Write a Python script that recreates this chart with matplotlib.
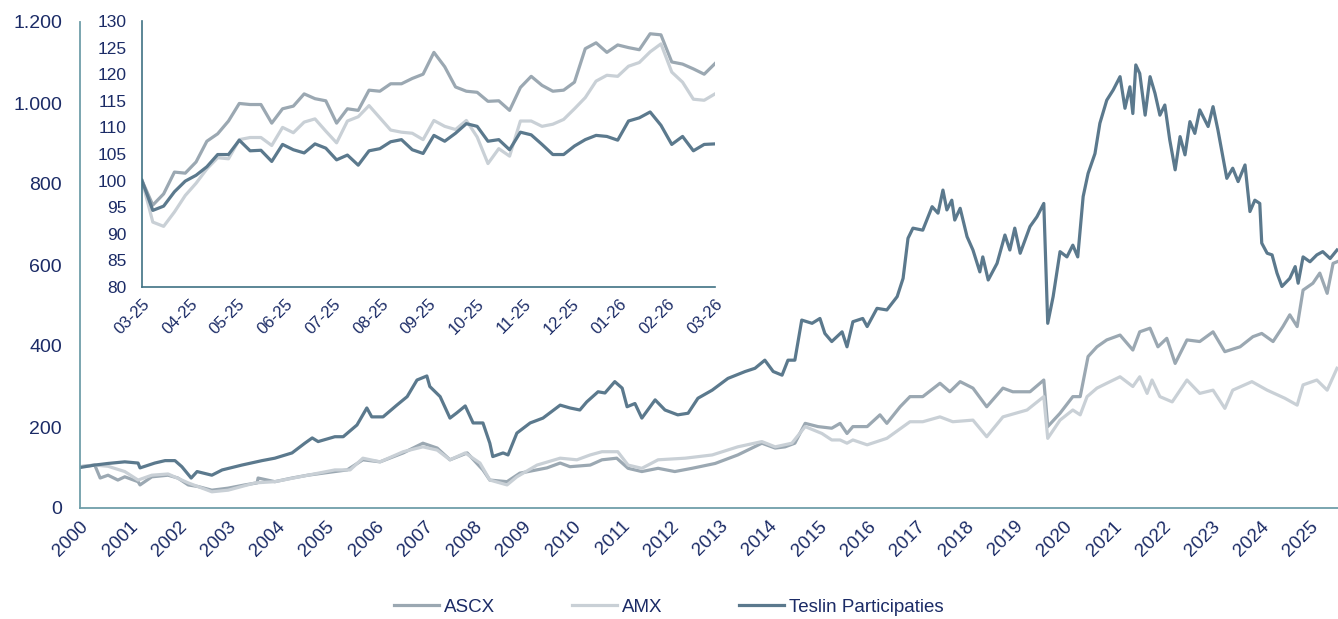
import matplotlib
matplotlib.use("Agg")
import matplotlib.pyplot as plt
from matplotlib.ticker import FuncFormatter
import numpy as np

plt.rcParams["font.family"] = ["Liberation Sans", "DejaVu Sans"]

# colours
c_teslin = "#5b798d"
c_ascx = "#9ba8b2"
c_amx = "#c9d0d6"
c_text = "#1b2b66"
c_spine = "#6f9ea9"

# ---- main chart: index (2000 = 100), x in years ----
teslin_t = [0.00, 0.30, 0.57, 0.91, 1.18, 1.22, 1.52, 1.73, 1.93, 2.07, 2.26, 2.38, 2.68, 2.89, 3.29,
            3.70, 3.96, 4.31, 4.57, 4.72, 4.84, 5.18, 5.35, 5.63, 5.83, 5.93, 6.16, 6.44, 6.65, 6.85,
            7.05, 7.11, 7.32, 7.52, 7.66, 7.83, 7.99, 8.19, 8.33, 8.39, 8.60, 8.70, 8.88, 9.15, 9.41,
            9.76, 9.96, 10.16, 10.30, 10.53, 10.67, 10.87, 11.02, 11.12, 11.28, 11.42, 11.69, 11.89,
            12.15, 12.36, 12.56, 12.85, 13.17, 13.52, 13.72, 13.92, 14.09, 14.27, 14.39, 14.53, 14.67,
            14.88, 15.04, 15.14, 15.28, 15.49, 15.59, 15.71, 15.91, 16.00, 16.20, 16.40, 16.61, 16.73,
            16.83, 16.93, 17.13, 17.32, 17.44, 17.54, 17.62, 17.72, 17.78, 17.89, 18.03, 18.15, 18.29,
            18.35, 18.46, 18.64, 18.80, 18.90, 19.00, 19.11, 19.31, 19.45, 19.59, 19.67, 19.78, 19.92,
            20.06, 20.18, 20.28, 20.39, 20.49, 20.63, 20.73, 20.87, 21.00, 21.14, 21.24, 21.34, 21.40,
            21.46, 21.54, 21.65, 21.75, 21.85, 21.95, 22.05, 22.15, 22.26, 22.36, 22.46, 22.56, 22.66,
            22.76, 22.93, 23.03, 23.13, 23.23, 23.31, 23.43, 23.54, 23.68, 23.78, 23.88, 23.98, 24.02,
            24.13, 24.23, 24.33, 24.43, 24.59, 24.70, 24.76, 24.86, 25.00, 25.14, 25.26, 25.41, 25.55]
teslin_v = [100, 106, 110, 114, 111, 99, 111, 117, 117, 102, 74, 90, 81, 94, 106,
            117, 123, 136, 160, 173, 164, 176, 176, 205, 247, 225, 225, 254, 275, 316,
            326, 300, 275, 222, 235, 252, 210, 210, 160, 127, 136, 131, 185, 210, 222,
            254, 247, 242, 262, 287, 284, 312, 296, 250, 258, 222, 267, 242,
            230, 234, 271, 291, 320, 337, 345, 365, 337, 328, 365, 365, 464,
            456, 468, 431, 411, 435, 398, 460, 468, 448, 493, 489, 522, 567,
            666, 691, 686, 744, 728, 785, 736, 760, 711, 740, 670, 637, 583,
            620, 563, 604, 674, 637, 691, 629, 695, 719, 752, 456, 522, 633,
            620, 649, 620, 769, 826, 875, 950, 1007, 1032, 1065, 987, 1040, 974,
            1094, 1073, 970, 1065, 1024, 970, 995, 909, 835, 917, 872, 954, 925,
            983, 942, 991, 933, 867, 814, 839, 806, 847, 732, 760, 752, 654,
            629, 625, 580, 547, 567, 596, 555, 620, 608, 625, 633, 616, 637]

ascx_t = [0.00, 0.30, 0.41, 0.57, 0.77, 0.91, 1.18, 1.22, 1.46, 1.79, 1.99, 2.20, 2.40, 2.68, 3.01,
          3.35, 3.60, 3.62, 3.96, 4.31, 4.63, 5.18, 5.43, 5.75, 6.10, 6.57, 6.97, 7.26, 7.52, 7.87,
          8.19, 8.33, 8.68, 8.94, 9.49, 9.76, 9.96, 10.37, 10.61, 10.91, 11.14, 11.42, 11.75, 12.09,
          12.44, 12.91, 13.37, 13.86, 14.13, 14.33, 14.53, 14.74, 15.00, 15.28, 15.45, 15.59, 15.71,
          16.00, 16.26, 16.40, 16.67, 16.87, 17.13, 17.48, 17.68, 17.89, 18.15, 18.43, 18.76, 18.96,
          19.31, 19.59, 19.67, 19.92, 20.18, 20.33, 20.49, 20.67, 20.87, 21.14, 21.40, 21.54, 21.75,
          21.91, 22.09, 22.26, 22.50, 22.76, 23.03, 23.27, 23.58, 23.84, 24.02, 24.25, 24.45, 24.59,
          24.74, 24.86, 25.06, 25.20, 25.35, 25.47, 25.55]
ascx_v = [102, 106, 74, 81, 69, 77, 65, 57, 77, 81, 74, 57, 53, 44, 49,
          57, 62, 74, 65, 74, 81, 90, 94, 119, 114, 136, 160, 148, 119, 136,
          94, 69, 65, 86, 99, 111, 102, 106, 119, 123, 98, 90, 98, 90,
          98, 110, 131, 160, 148, 151, 160, 209, 201, 197, 209, 184, 201,
          201, 230, 209, 250, 275, 275, 308, 287, 312, 296, 250, 296, 287,
          287, 316, 201, 234, 275, 275, 374, 398, 415, 427, 390, 435, 444,
          398, 419, 357, 415, 411, 435, 386, 398, 423, 431, 411, 448, 477,
          448, 538, 555, 580, 530, 604, 608]

amx_t = [0.00, 0.30, 0.57, 0.91, 1.18, 1.46, 1.79, 2.20, 2.68, 3.01, 3.56, 3.96, 4.63, 5.18, 5.49,
         5.75, 6.10, 6.57, 6.97, 7.26, 7.52, 7.83, 8.13, 8.33, 8.68, 8.88, 9.29, 9.76, 10.10, 10.37,
         10.61, 10.93, 11.14, 11.42, 11.75, 12.30, 12.85, 13.37, 13.86, 14.13, 14.47, 14.74, 15.08,
         15.28, 15.45, 15.59, 15.71, 16.00, 16.40, 16.87, 17.13, 17.48, 17.74, 18.15, 18.43, 18.76,
         19.25, 19.59, 19.67, 19.92, 20.18, 20.33, 20.47, 20.67, 20.87, 21.14, 21.40, 21.54, 21.69,
         21.79, 21.95, 22.20, 22.50, 22.76, 23.03, 23.27, 23.43, 23.82, 24.13, 24.49, 24.74, 24.86,
         25.14, 25.35, 25.55]
amx_v = [102, 106, 103, 90, 69, 81, 84, 62, 40, 44, 62, 65, 81, 94, 94,
         123, 114, 139, 151, 143, 119, 136, 111, 69, 57, 77, 106, 123, 119, 131,
         139, 139, 106, 98, 119, 123, 131, 151, 164, 151, 160, 201, 184,
         168, 168, 160, 168, 156, 172, 213, 213, 225, 213, 217, 176, 225,
         242, 275, 172, 217, 242, 230, 275, 296, 308, 324, 300, 324, 283,
         316, 275, 262, 316, 283, 291, 246, 291, 312, 291, 271, 254, 304,
         316, 291, 345]

years = list(range(2000, 2026))

# ---- inset: last 12 months, weekly, index = 100 ----
inset_months = ["03-25", "04-25", "05-25", "06-25", "07-25", "08-25", "09-25",
                "10-25", "11-25", "12-25", "01-26", "02-26", "03-26"]
teslin_w = [100.0, 94.4, 95.2, 97.9, 99.9, 101.0, 102.6, 104.9, 104.9, 107.6, 105.6, 105.7, 103.6,
            106.8, 105.8, 105.2, 106.9, 106.1, 103.9, 104.8, 102.9, 105.6, 106.0, 107.3, 107.7,
            105.8, 105.1, 108.5, 107.4, 108.9, 110.7, 110.2, 107.4, 107.7, 105.8, 109.1, 108.6,
            106.8, 104.9, 104.9, 106.5, 107.7, 108.5, 108.3, 107.6, 111.2, 111.8, 112.9, 110.4,
            106.8, 108.3, 105.6, 106.8, 106.9]
ascx_w = [100.0, 95.4, 97.5, 101.6, 101.4, 103.5, 107.4, 108.8, 111.2, 114.5, 114.3, 114.3, 110.8,
          113.5, 114.0, 116.3, 115.4, 115.0, 110.8, 113.5, 113.2, 117.0, 116.8, 118.2, 118.2,
          119.2, 120.0, 124.1, 121.4, 117.6, 116.8, 116.6, 114.9, 115.0, 113.2, 117.5, 119.6,
          117.9, 116.8, 117.0, 118.5, 124.8, 125.9, 124.1, 125.5, 125.0, 124.6, 127.6, 127.4,
          122.3, 121.9, 121.0, 120.0, 122.0]
amx_w = [100.0, 92.2, 91.4, 94.1, 97.2, 99.5, 102.2, 104.3, 104.1, 107.7, 108.1, 108.1, 106.6,
         110.0, 109.0, 111.0, 111.6, 109.3, 107.1, 111.2, 112.0, 114.1, 111.8, 109.5, 109.1,
         108.9, 107.7, 111.3, 110.2, 109.6, 111.3, 108.2, 103.2, 106.0, 104.6, 111.2, 111.2,
         110.2, 110.6, 111.5, 113.5, 115.6, 118.7, 119.8, 119.6, 121.5, 122.2, 124.2, 125.7,
         120.4, 118.5, 115.3, 115.1, 116.3]

W, H = 1338, 619
fig = plt.figure(figsize=(W / 100, H / 100), dpi=100)

# main axes
ax = fig.add_axes([80 / W, (H - 508) / H, (W - 80) / W, (508 - 22) / H])
lw = 2.3
ax.plot(2000 + np.array(ascx_t), ascx_v, color=c_ascx, lw=lw, label="ASCX")
ax.plot(2000 + np.array(amx_t), amx_v, color=c_amx, lw=lw, label="AMX")
ax.plot(2000 + np.array(teslin_t), teslin_v, color=c_teslin, lw=lw, label="Teslin Participaties")
ax.set_xlim(2000, 2025.57)
ax.set_ylim(0, 1200)
ax.set_yticks(range(0, 1201, 200))
ax.yaxis.set_major_formatter(FuncFormatter(lambda v, p: f"{int(v):,}".replace(",", ".")))
ax.set_xticks(years)
ax.set_xticklabels([str(y) for y in years], rotation=45, ha="right", va="top",
                   rotation_mode="anchor")
ax.tick_params(axis="y", length=0, pad=13, labelsize=14, labelcolor=c_text)
ax.tick_params(axis="x", length=0, pad=7, labelsize=13.5, labelcolor=c_text)
for s in ["top", "right"]:
    ax.spines[s].set_visible(False)
for s in ["left", "bottom"]:
    ax.spines[s].set_color(c_spine)
    ax.spines[s].set_linewidth(1.3)

fig.legend(loc="center", bbox_to_anchor=(0.5, 12 / H), ncol=3, frameon=False,
           fontsize=13.5, labelcolor=c_text, handlelength=2.4, handletextpad=0.25,
           columnspacing=4.1)

# inset
ins = fig.add_axes([142 / W, (H - 287) / H, (715 - 142) / W, (287 - 21) / H])
ins.set_facecolor("white")
wk = np.arange(len(teslin_w))
ins.plot(wk, ascx_w, color=c_ascx, lw=2.3)
ins.plot(wk, amx_w, color=c_amx, lw=2.3)
ins.plot(wk, teslin_w, color=c_teslin, lw=2.3)
ins.set_xlim(0, len(teslin_w) - 1)
ins.set_ylim(80, 130)
ins.set_yticks(range(80, 131, 5))
ins.set_xticks(np.linspace(0, len(teslin_w) - 1, len(inset_months)))
ins.set_xticklabels(inset_months, rotation=45, ha="right", va="top", rotation_mode="anchor")
ins.tick_params(axis="y", length=0, pad=11, labelsize=12.5, labelcolor=c_text)
ins.tick_params(axis="x", length=0, pad=7, labelsize=12, labelcolor=c_text)
for s in ["top", "right"]:
    ins.spines[s].set_visible(False)
for s in ["left", "bottom"]:
    ins.spines[s].set_color("#3f7284")
    ins.spines[s].set_linewidth(1.2)

fig.savefig("out.png", dpi=100)
